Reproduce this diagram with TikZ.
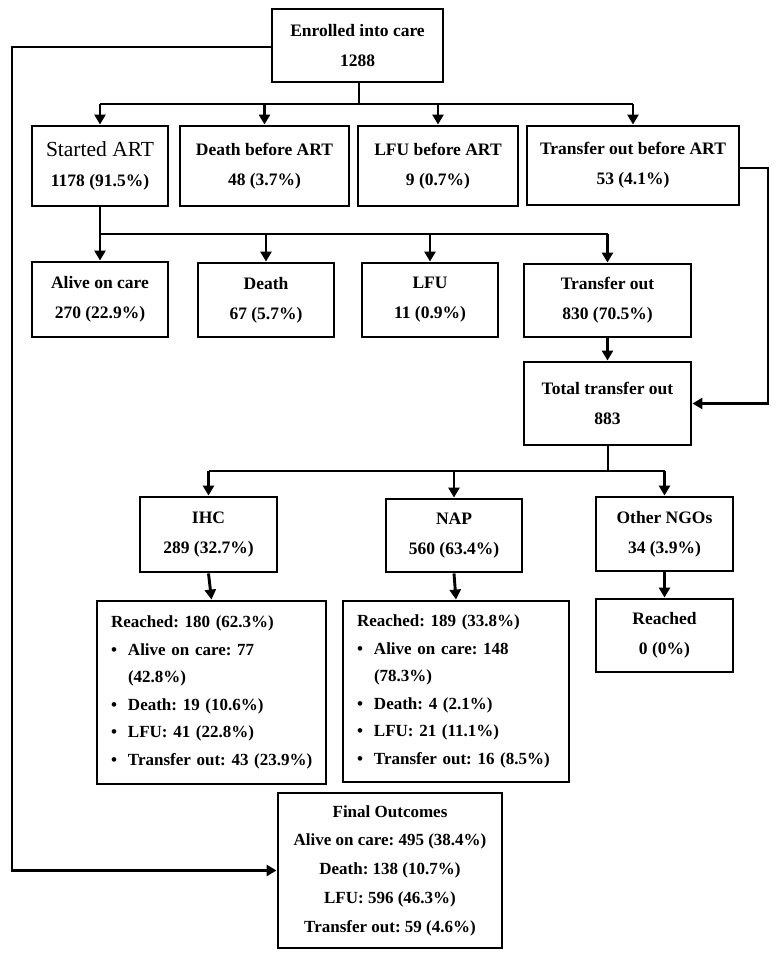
\documentclass[tikz,border=0pt]{standalone}
\usepackage{fontspec}
\setmainfont{Liberation Serif}
\usetikzlibrary{arrows.meta}
\frenchspacing
\hbadness=10000 \hfuzz=50pt
\newcommand{\bitem}[1]{\mbox{\makebox[3pt][l]{\textbullet}\hspace{14pt}#1}}
\begin{document}
\begin{tikzpicture}[x=1pt,y=-1pt,
  box/.style={draw,line width=2.9pt,align=center,inner sep=0pt,
    font=\fontsize{17.5}{30}\selectfont\bfseries},
  lst/.style={draw,line width=2.9pt,align=left,inner xsep=14pt,inner ysep=0pt,
    font=\fontsize{17}{27.5}\selectfont\bfseries\frenchspacing},
  ln/.style={line width=2.9pt},
  arr/.style={line width=2.9pt,-{Triangle[length=10pt,width=11pt]}}]
\useasboundingbox (0,0) rectangle (778,959);
% row 1
\node[box,minimum width=171pt,minimum height=73pt] (enr) at (357.5,45.5) {Enrolled into care\\1288};
% row 2
\node[box,minimum width=136pt,minimum height=80pt] (start) at (100,166) {{\fontsize{21.5}{30}\selectfont\mdseries Started ART}\\1178 (91.5\%)};
\node[box,minimum width=169pt,minimum height=80pt] (dba) at (264.5,166) {Death before ART\\48 (3.7\%)};
\node[box,minimum width=160pt,minimum height=80pt] (lba) at (438,166) {LFU before ART\\9 (0.7\%)};
\node[box,minimum width=212pt,minimum height=79pt] (tba) at (633,165.5) {Transfer out before ART\\53 (4.1\%)};
% row 3
\node[box,minimum width=136pt,minimum height=75pt] (alive) at (100,299.5) {Alive on care\\270 (22.9\%)};
\node[box,minimum width=136pt,minimum height=74pt] (death) at (266,300) {Death\\67 (5.7\%)};
\node[box,minimum width=136pt,minimum height=74pt] (lfu) at (430,300) {LFU\\11 (0.9\%)};
\node[box,minimum width=167pt,minimum height=73pt] (tout) at (607.5,300.5) {Transfer out\\830 (70.5\%)};
\node[box,minimum width=167pt,minimum height=83pt] (total) at (607.5,403.5) {Total transfer out\\883};
% row 4
\node[box,minimum width=137pt,minimum height=75pt] (ihc) at (208.5,534.5) {IHC\\289 (32.7\%)};
\node[box,minimum width=136pt,minimum height=73pt] (nap) at (454,535.5) {NAP\\560 (63.4\%)};
\node[box,minimum width=137pt,minimum height=74pt] (ngo) at (664.5,534) {Other NGOs\\34 (3.9\%)};
% row 5
\node[lst,minimum width=229pt,minimum height=183pt,text width=201pt] (r1) at (211.5,692.5)
 {\mbox{Reached: 180 (62.3\%)}\\
  \bitem{Alive on care: 77}\\
  \hspace{17pt}(42.8\%)\\
  \bitem{Death: 19 (10.6\%)}\\
  \bitem{LFU: 41 (22.8\%)}\\
  \bitem{Transfer out: 43 (23.9\%)}};
\node[lst,minimum width=226pt,minimum height=181pt,text width=198pt] (r2) at (456,691.5)
 {\mbox{Reached: 189 (33.8\%)}\\
  \bitem{Alive on care: 148}\\
  \hspace{17pt}(78.3\%)\\
  \bitem{Death: 4 (2.1\%)}\\
  \bitem{LFU: 21 (11.1\%)}\\
  \bitem{Transfer out: 16 (8.5\%)}};
\node[box,minimum width=137pt,minimum height=73pt] (r3) at (664.5,635.5) {Reached\\0 (0\%)};
% final
\node[box,minimum width=224pt,minimum height=155pt,font=\fontsize{17}{28.7}\selectfont\bfseries] (fin) at (390,870.5)
 {Final Outcomes\\Alive on care: 495 (38.4\%)\\Death: 138 (10.7\%)\\LFU: 596 (46.3\%)\\Transfer out: 59 (4.6\%)};
% bus coordinates
\coordinate (b1) at (359,104);
\coordinate (b2) at (99,234);
\coordinate (b3) at (608,471);
\coordinate (rt) at (768,168);
\coordinate (lt) at (12,47);
% top connectors
\draw[ln] (enr.south -| b1) -- (b1);
\draw[ln] (start.north |- b1) -- (tba.north |- b1);
\draw[arr] (start.north |- b1) -- (start.north);
\draw[arr] (dba.north |- b1) -- (dba.north);
\draw[arr] (lba.north |- b1) -- (lba.north);
\draw[arr] (tba.north |- b1) -- (tba.north);
% second level
\draw[ln] (start.south) -- (start.south |- b2);
\draw[ln] (start.south |- b2) -- (tout.north |- b2);
\draw[arr] (alive.north |- b2) -- (alive.north);
\draw[arr] (death.north |- b2) -- (death.north);
\draw[arr] (lfu.north |- b2) -- (lfu.north);
\draw[arr] (tout.north |- b2) -- (tout.north);
\draw[arr] (tout.south) -- (total.north);
% transfer out before ART loop
\draw[arr] (tba.east |- rt) -- (rt) -- (rt |- total.east) -- (total.east);
% third level
\draw[ln] (total.south -| b3) -- (b3);
\draw[ln] (ihc.north |- b3) -- (ngo.north |- b3);
\draw[arr] (ihc.north |- b3) -- (ihc.north);
\draw[arr] (nap.north |- b3) -- (nap.north);
\draw[arr] (ngo.north |- b3) -- (ngo.north);
\draw[arr] (ihc.south) -- (r1.north);
\draw[arr] (nap.south) -- (r2.north);
\draw[arr] (ngo.south) -- (r3.north);
% left loop to final
\draw[arr] (enr.west |- lt) -- (lt) -- (lt |- fin.west) -- (fin.west);
\end{tikzpicture}
\end{document}
